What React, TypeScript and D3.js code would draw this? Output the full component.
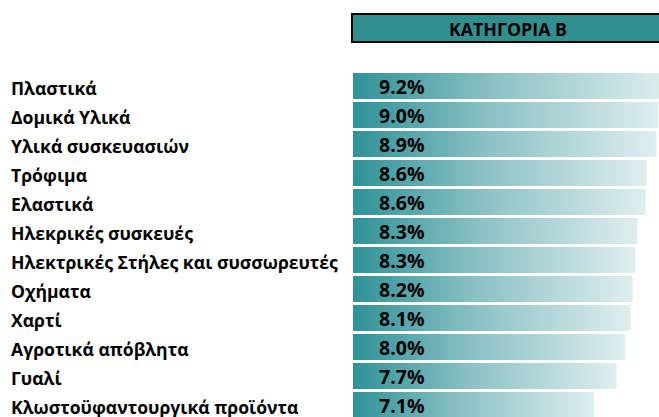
import React from "react"
import * as d3 from "d3"

const categories = [
  "Πλαστικά",
  "Δομικά Υλικά",
  "Υλικά συσκευασιών",
  "Τρόφιμα",
  "Ελαστικά",
  "Ηλεκρικές συσκευές",
  "Ηλεκτρικές Στήλες και συσσωρευτές",
  "Οχήματα",
  "Χαρτί",
  "Αγροτικά απόβλητα",
  "Γυαλί",
  "Κλωστοϋφαντουργικά προϊόντα",
]

const values = [9.2, 8.96, 8.9, 8.61, 8.58, 8.34, 8.27, 8.2, 8.14, 7.98, 7.73, 7.07]

const header = "ΚΑΤΗΓΟΡΙΑ Β"

const W = 659
const H = 417
const font = "'Open Sans', 'Noto Sans', sans-serif"

export default function App() {
  const x = d3.scaleLinear().domain([0, 10]).range([353, 694])
  const y = d3
    .scaleBand<string>()
    .domain(categories)
    .range([71.5, 71.5 + categories.length * 29])
    .paddingInner(3 / 29)
    .paddingOuter(3 / 58)
  const fmt = d3.format(".1f")

  return (
    <svg
      width={W}
      height={H}
      style={{ position: "absolute", left: 0, top: 0, background: "#fff" }}
    >
      <defs>
        <linearGradient id="barFill" x1="0" x2="1" y1="0" y2="0">
          <stop offset="0" stopColor="#2f9297" />
          <stop offset="0.45" stopColor="#8cc2c5" />
          <stop offset="1" stopColor="#dfeeef" />
        </linearGradient>
      </defs>

      {/* header box */}
      <rect x={352} y={14} width={320} height={28} fill="#30908F" stroke="#000" strokeWidth={2} />
      <text
        x={508}
        y={36}
        textAnchor="middle"
        fontFamily={font}
        fontWeight="bold"
        fontSize={17.8}
        fill="#000"
      >
        {header}
      </text>

      {categories.map((c, i) => (
        <g key={c}>
          <text
            x={11}
            y={(y(c) ?? 0) + 21.5}
            fontFamily={font}
            fontWeight="bold"
            fontSize={17.6}
            fill="#000"
          >
            {c}
          </text>
          <rect
            x={x(0)}
            y={y(c)}
            width={x(values[i]) - x(0)}
            height={y.bandwidth()}
            fill="url(#barFill)"
          />
          <text
            x={x(0) + 26}
            y={(y(c) ?? 0) + 21}
            fontFamily={font}
            fontWeight="bold"
            fontSize={19.5}
            fill="#000"
          >
            {fmt(values[i])}%
          </text>
        </g>
      ))}
    </svg>
  )
}
